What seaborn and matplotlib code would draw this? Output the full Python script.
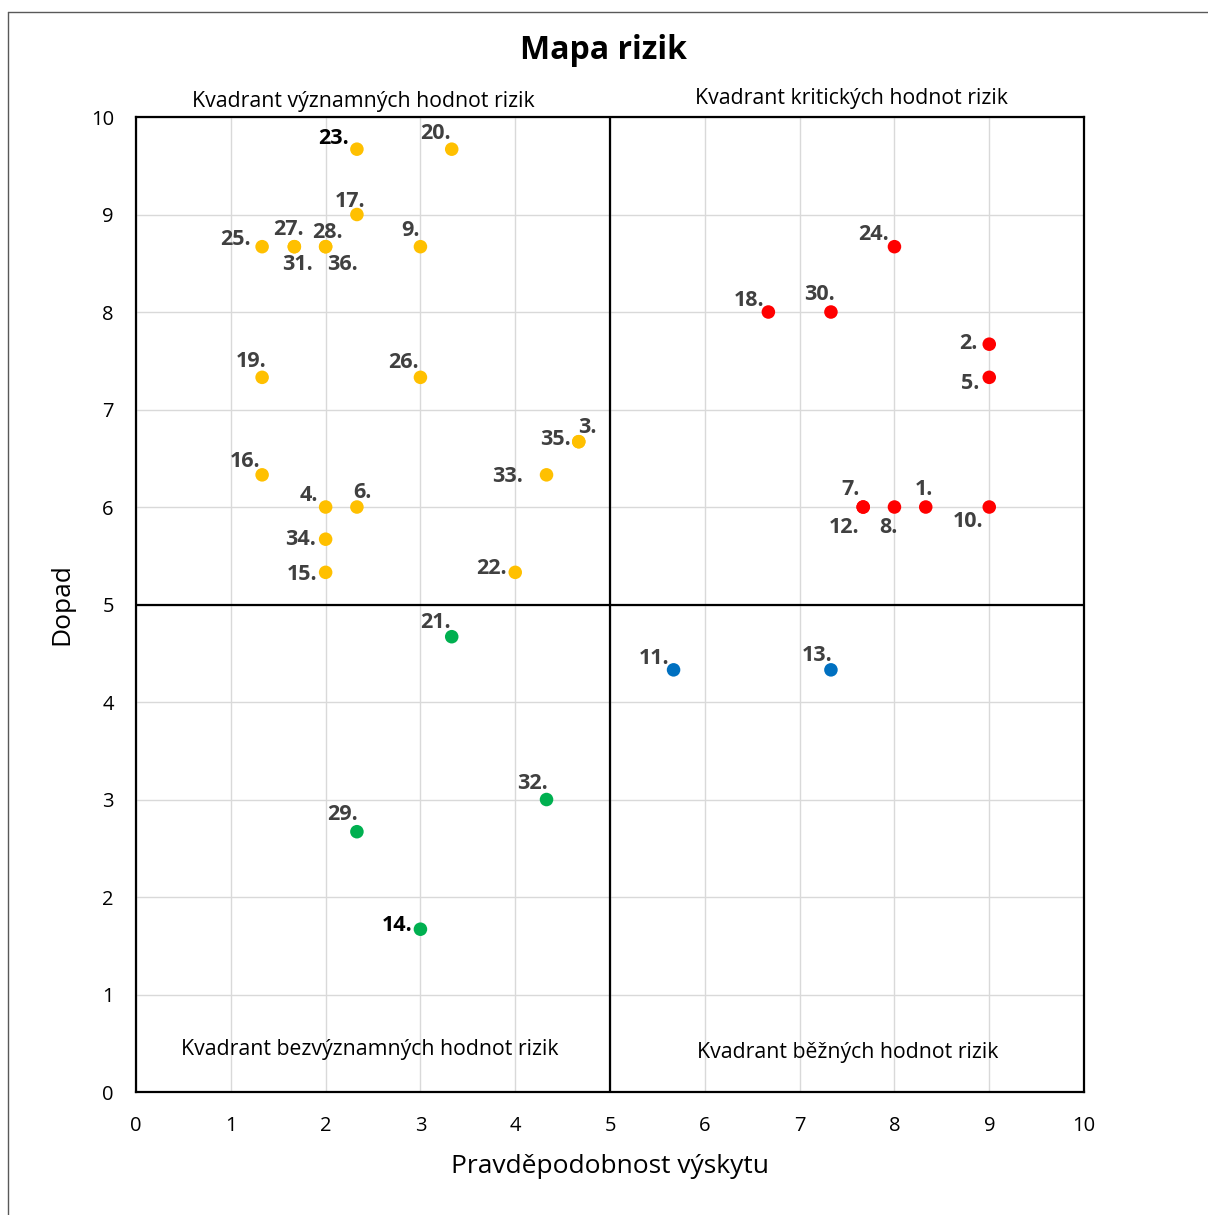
import pandas as pd
import matplotlib.pyplot as plt
import seaborn as sns
from matplotlib.lines import Line2D

# =========================
# DATA
# =========================
risk_ids = ["23.", "20.", "17.", "25.", "27.", "31.", "28.", "36.", "9.", "19.", "26.",
            "35.", "3.", "33.", "16.", "4.", "6.", "34.", "15.", "22.",
            "24.", "18.", "30.", "2.", "5.", "7.", "12.", "8.", "1.", "10.",
            "21.", "32.", "29.", "14.",
            "11.", "13."]
probability = [2.33, 3.33, 2.33, 1.33, 1.67, 1.67, 2.0, 2.0, 3.0, 1.33, 3.0,
               4.67, 4.67, 4.33, 1.33, 2.0, 2.33, 2.0, 2.0, 4.0,
               8.0, 6.67, 7.33, 9.0, 9.0, 7.67, 7.67, 8.0, 8.33, 9.0,
               3.33, 4.33, 2.33, 3.0,
               5.67, 7.33]
impact = [9.67, 9.67, 9.0, 8.67, 8.67, 8.67, 8.67, 8.67, 8.67, 7.33, 7.33,
          6.67, 6.67, 6.33, 6.33, 6.0, 6.0, 5.67, 5.33, 5.33,
          8.67, 8.0, 8.0, 7.67, 7.33, 6.0, 6.0, 6.0, 6.0, 6.0,
          4.67, 3.0, 2.67, 1.67,
          4.33, 4.33]
quadrant = (["významné"] * 20 + ["kritické"] * 10 + ["bezvýznamné"] * 4 + ["běžné"] * 2)

df = pd.DataFrame({"id": risk_ids, "x": probability, "y": impact, "q": quadrant})

colors = {"významné": "#FFC000", "kritické": "#FF0000",
          "bezvýznamné": "#00B050", "běžné": "#0070C0"}

# label offsets in points (dx, dy) relative to the marker
offsets = {
    "23.": (-17, 8), "20.": (-12, 12), "17.": (-5, 10), "25.": (-19, 6),
    "27.": (-4, 13), "31.": (2, -12), "28.": (1, 11), "36.": (12, -12),
    "9.": (-7, 12), "19.": (-8, 12), "26.": (-12, 11), "35.": (-17, 2),
    "3.": (6, 11), "33.": (-28, -1), "16.": (-12, 10), "4.": (-12, 9),
    "6.": (4, 11), "34.": (-18, 0), "15.": (-17, -1), "22.": (-17, 3),
    "24.": (-15, 9), "18.": (-14, 9), "30.": (-8, 13), "2.": (-15, 1),
    "5.": (-14, -4), "7.": (-9, 13), "12.": (-14, -14), "8.": (-4, -14),
    "1.": (-1, 13), "10.": (-15, -10), "21.": (-12, 11), "32.": (-10, 12),
    "29.": (-10, 13), "14.": (-17, 3), "11.": (-14, 9), "13.": (-10, 11),
}
bold_black = ["23.", "14."]

# =========================
# PLOT
# =========================
sns.set_style("white")
plt.rcParams["font.family"] = ["Open Sans", "DejaVu Sans"]

fig = plt.figure(figsize=(12.08, 12.15), dpi=100)
ax = fig.add_axes([0.1126, 0.1012, 0.7848, 0.8025])

ax.set_xlim(0, 10)
ax.set_ylim(0, 10)
ax.set_xticks(range(11))
ax.set_yticks(range(11))
ax.grid(True, color="#d9d9d9", linewidth=1)
ax.set_axisbelow(True)

ax.axvline(5, color="black", linewidth=1.6, zorder=2)
ax.axhline(5, color="black", linewidth=1.6, zorder=2)

sns.scatterplot(data=df, x="x", y="y", hue="q", palette=colors, s=95,
                edgecolor="none", legend=False, ax=ax, zorder=3)

for _, row in df.iterrows():
    dx, dy = offsets[row["id"]]
    col = "black" if row["id"] in bold_black else "#404040"
    ax.annotate(row["id"], (row["x"], row["y"]), xytext=(dx, dy - 0.5),
                textcoords="offset points", ha="center", va="center",
                fontsize=15.5, fontweight="bold", color=col, zorder=4)

# quadrant captions
ax.text(2.4, 10.16, "Kvadrant významných hodnot rizik", ha="center", va="center",
        fontsize=15.3, color="black", clip_on=False)
ax.text(7.55, 10.19, "Kvadrant kritických hodnot rizik", ha="center", va="center",
        fontsize=15.3, color="black", clip_on=False)
ax.text(2.47, 0.44, "Kvadrant bezvýznamných hodnot rizik", ha="center", va="center",
        fontsize=15.3, color="black")
ax.text(7.51, 0.41, "Kvadrant běžných hodnot rizik", ha="center", va="center",
        fontsize=15.3, color="black")

for sp in ax.spines.values():
    sp.set_visible(True)
    sp.set_color("black")
    sp.set_linewidth(1.6)

ax.tick_params(axis="both", length=0, labelsize=14.5, labelcolor="black")
ax.tick_params(axis="x", pad=17.5)
ax.tick_params(axis="y", pad=16)

ax.set_xlabel("Pravděpodobnost výskytu", fontsize=19, labelpad=13, color="black")
ax.set_ylabel("Dopad", fontsize=19, labelpad=12, color="black")

fig.text(0.5, 1 - 59 / 1215, "Mapa rizik", ha="center", va="baseline",
         fontsize=23, fontweight="bold", color="black")

# chart area border
fig.add_artist(Line2D([8 / 1208, 1.0], [1 - 12 / 1215, 1 - 12 / 1215],
                      color="#595959", linewidth=1))
fig.add_artist(Line2D([8 / 1208, 8 / 1208], [0.0, 1 - 12 / 1215],
                      color="#595959", linewidth=1))

fig.savefig("out.png", dpi=100)
